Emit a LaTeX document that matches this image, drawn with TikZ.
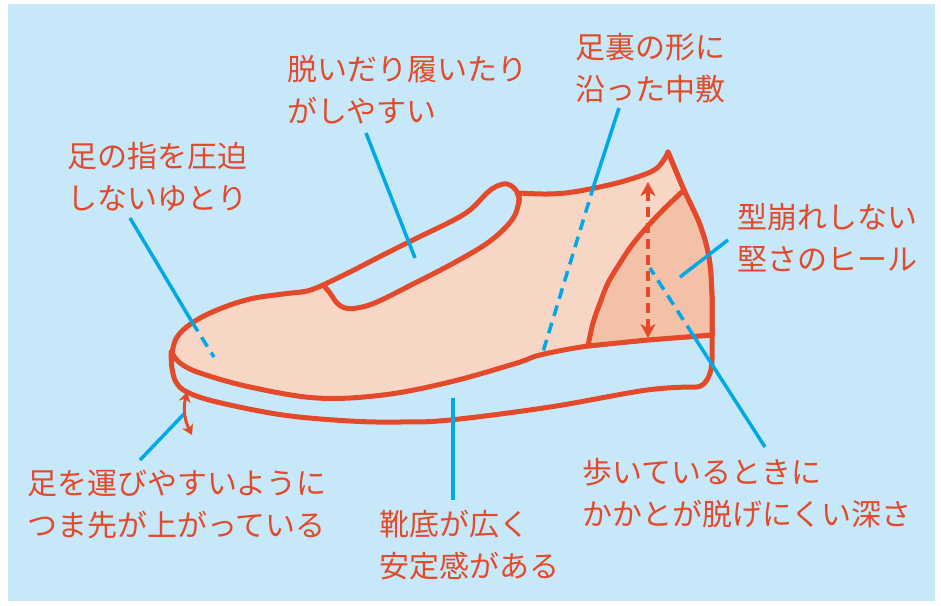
\documentclass[tikz,border=0pt]{standalone}
\usepackage{fontspec}
\setmainfont{Noto Sans CJK JP}
\usepackage{xcolor}
\usepackage{tikz}
\usetikzlibrary{positioning, arrows.meta}
\definecolor{sky}{HTML}{C7E8F9}
\definecolor{skin}{HTML}{F8D6C6}
\definecolor{heelskin}{HTML}{F3C1A8}
\definecolor{brick}{HTML}{E44A2A}
\definecolor{leaderblue}{HTML}{00A8E6}

\begin{document}
\begin{tikzpicture}[x=1pt, y=-1pt,
    >={Stealth[length=14pt, width=15pt, inset=4pt]},
    note/.style={anchor=north west, inner sep=0pt, align=left, text=brick,
      font=\fontsize{30}{42}\selectfont},
    shoeline/.style={brick, line width=5pt, line join=round, line cap=round},
    leadline/.style={leaderblue, line width=3.5pt},
    leaddash/.style={leadline, dash pattern=on 11pt off 7pt}]
      \useasboundingbox (0,0) rectangle (941,605);
      \fill[white] (0,0) rectangle (941,605);
      \fill[sky] (8,4) rectangle (935,601);
      % sole
      \draw[shoeline] plot[smooth, tension=0.6] coordinates {(171,352) (172,368)
          (176,382) (187,392) (217,402) (283,415) (350,421) (400,422) (450,420)
          (550,407) (647,390) (697,387)}
        .. controls (707,386) and (712,372) .. (712,360) -- (712,335);
      % upper
      \filldraw[shoeline, fill=skin]
        plot[smooth, tension=0.6] coordinates {(172,353) (177,337) (192,323)
          (217,310) (250,299) (283,294) (307,291) (323,285)}
        -- plot[smooth, tension=0.6] coordinates {(323,285) (330,293) (337,303)
          (345,308) (357,308) (377,302) (417,282) (450,265) (483,246) (503,230)
          (515,215) (519,200)}
        -- plot[smooth, tension=0.6] coordinates {(519,193) (547,194) (573,192)
          (613,184) (643,175) (657,168) (665,158) (668,152)}
        -- plot[smooth, tension=0.6] coordinates {(668,152) (684,190) (700,225)
          (709,258) (712,297) (712,335)}
        -- plot[smooth, tension=0.6] coordinates {(712,335) (647,340) (588,346)
          (540,355) (517,363) (450,382) (383,395) (317,398) (250,387) (200,373)
          (180,363) (172,353)}
        -- cycle;
      % collar
      \draw[shoeline] plot[smooth, tension=0.6] coordinates {(323,285) (350,272)
          (383,255) (417,238) (450,222) (470,210) (487,193) (497,186) (507,184)
          (515,189) (519,198) (519,203)};
      % heel counter
      \fill[heelskin] plot[smooth, tension=0.6] coordinates {(684,190) (665,208)
          (647,227) (632,245) (620,263) (608,283) (600,303) (593,323) (588,346)}
        -- (647,340) -- (712,335)
        -- plot[smooth, tension=0.6] coordinates {(712,335) (712,297) (709,258)
          (700,225) (684,190)} -- cycle;
      \draw[shoeline] plot[smooth, tension=0.6] coordinates {(684,190) (665,208)
          (647,227) (632,245) (620,263) (608,283) (600,303) (593,323) (588,346)}
        -- (647,340) -- (712,335);
      \draw[shoeline] plot[smooth, tension=0.6] coordinates {(668,152) (684,190)
          (700,225) (709,258) (712,297) (712,335)};

      % labels
      \foreach \name/\px/\py/\lineA/\lineB in {%
        toeroom/67/142/足の指を圧迫/しないゆとり,
        slipon/287/55/脱いだり履いたり/がしやすい,
        insole/575/33/足裏の形に/沿った中敷,
        heel/737/203/型崩れしない/堅さのヒール,
        depth/582/458/歩いているときに/かかとが脱げにくい深さ,
        lift/27/470/足を運びやすいように/つま先が上がっている,
        sole/379/510/靴底が広く/安定感がある
        } {
        \node[note] (\name) at (\px,\py) {\lineA\\\lineB};
      }

      % leader end points
      \coordinate (toeroomA) at (130,218);
      \coordinate (toeroomB) at (192,322);
      \coordinate (toeroomC) at (214,357);
      \coordinate (sliponA) at (366,133);
      \coordinate (sliponB) at (415,258);
      \coordinate (insoleA) at (619,108);
      \coordinate (insoleB) at (594,185);
      \coordinate (insoleC) at (542,355);
      \coordinate (heelA) at (728,240);
      \coordinate (heelB) at (680,277);
      \coordinate (depthA) at (765,447);
      \coordinate (depthB) at (693,335);
      \coordinate (depthC) at (650,268);
      \coordinate (soleA) at (453,500);
      \coordinate (soleB) at (453,398);
      \coordinate (liftA) at (140,460);
      \coordinate (liftB) at (184,414);

      \foreach \a/\b in {toeroomA/toeroomB, sliponA/sliponB, insoleA/insoleB,
        heelA/heelB, depthA/depthB, soleA/soleB, liftA/liftB}
        \draw[leadline] (\a) -- (\b);
      \foreach \a/\b in {toeroomB/toeroomC, insoleB/insoleC, depthB/depthC}
        \draw[leaddash] (\a) -- (\b);

      % heel depth and toe spring
      \coordinate (cuptop) at (648,182);
      \coordinate (cupbot) at (648,338);
      \draw[brick, line width=4pt, dash pattern=on 10pt off 6pt, <->]
        (cuptop) -- (cupbot);
      \coordinate (springtop) at (187,392);
      \coordinate (springbot) at (192,435);
      \draw[brick, line width=3pt,
          >={Stealth[length=10pt, width=12pt, inset=3pt]}, <->]
        (springtop) to[bend right=20] (springbot);
\end{tikzpicture}
\end{document}
